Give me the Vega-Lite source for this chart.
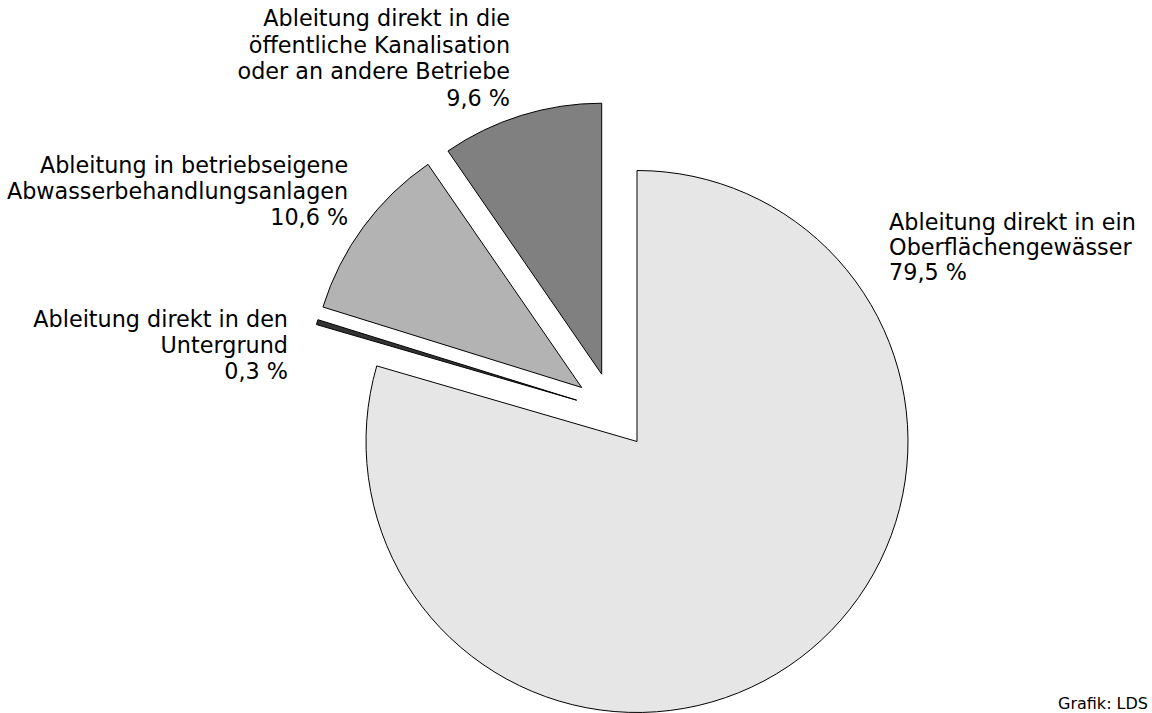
{
  "$schema": "https://vega.github.io/schema/vega-lite/v6.json",
  "width": 1152,
  "height": 713,
  "autosize": {"type": "fit", "contains": "padding"},
  "padding": 0,
  "background": "white",
  "config": {"view": {"stroke": null}, "font": "DejaVu Sans"},
  "datasets": {
    "anteile": [
      {"kategorie": "Oberflächengewässer", "anteil": 79.5, "ord": 1, "label": "Ableitung direkt in ein\nOberflächengewässer\n79,5 %"},
      {"kategorie": "Untergrund", "anteil": 0.3, "ord": 2, "label": "Ableitung direkt in den\nUntergrund\n0,3 %"},
      {"kategorie": "Abwasserbehandlungsanlagen", "anteil": 10.6, "ord": 3, "label": "Ableitung in betriebseigene\nAbwasserbehandlungsanlagen\n10,6 %"},
      {"kategorie": "Kanalisation", "anteil": 9.6, "ord": 4, "label": "Ableitung direkt in die\nöffentliche Kanalisation\noder an andere Betriebe\n9,6 %"}
    ],
    "quelle": [{"text": "Grafik: LDS"}]
  },
  "layer": [
    {
      "data": {"name": "anteile"},
      "transform": [
        {"stack": "anteil", "groupby": [], "sort": [{"field": "ord", "order": "ascending"}], "as": ["start", "end"]},
        {"filter": "datum.ord == 1"}
      ],
      "mark": {"type": "arc", "outerRadius": 271, "xOffset": 61, "yOffset": 86.5, "fill": "#e6e6e6", "stroke": "black", "strokeWidth": 1, "strokeJoin": "miter"},
      "encoding": {
        "theta": {"field": "start", "type": "quantitative", "scale": {"domain": [0, 100], "range": [0, 6.283185307179586]}},
        "theta2": {"field": "end"}
      }
    },
    {
      "data": {"name": "anteile"},
      "transform": [
        {"stack": "anteil", "groupby": [], "sort": [{"field": "ord", "order": "ascending"}], "as": ["start", "end"]},
        {"filter": "datum.ord == 2"}
      ],
      "mark": {"type": "arc", "outerRadius": 271, "xOffset": 0.7, "yOffset": 45.2, "fill": "#333333", "stroke": "black", "strokeWidth": 1, "strokeJoin": "miter"},
      "encoding": {
        "theta": {"field": "start", "type": "quantitative", "scale": {"domain": [0, 100], "range": [0, 6.283185307179586]}},
        "theta2": {"field": "end"}
      }
    },
    {
      "data": {"name": "anteile"},
      "transform": [
        {"stack": "anteil", "groupby": [], "sort": [{"field": "ord", "order": "ascending"}], "as": ["start", "end"]},
        {"filter": "datum.ord == 3"}
      ],
      "mark": {"type": "arc", "outerRadius": 271, "xOffset": 5.7, "yOffset": 32.5, "fill": "#b3b3b3", "stroke": "black", "strokeWidth": 1, "strokeJoin": "miter"},
      "encoding": {
        "theta": {"field": "start", "type": "quantitative", "scale": {"domain": [0, 100], "range": [0, 6.283185307179586]}},
        "theta2": {"field": "end"}
      }
    },
    {
      "data": {"name": "anteile"},
      "transform": [
        {"stack": "anteil", "groupby": [], "sort": [{"field": "ord", "order": "ascending"}], "as": ["start", "end"]},
        {"filter": "datum.ord == 4"}
      ],
      "mark": {"type": "arc", "outerRadius": 271, "xOffset": 25.7, "yOffset": 19.2, "fill": "#808080", "stroke": "black", "strokeWidth": 1, "strokeJoin": "miter"},
      "encoding": {
        "theta": {"field": "start", "type": "quantitative", "scale": {"domain": [0, 100], "range": [0, 6.283185307179586]}},
        "theta2": {"field": "end"}
      }
    },
    {
      "data": {"name": "anteile"},
      "transform": [
        {"stack": "anteil", "groupby": [], "sort": [{"field": "ord", "order": "ascending"}], "as": ["start", "end"]},
        {"calculate": "(datum.start + datum.end) / 2", "as": "mitte"},
        {"filter": "datum.ord == 1"}
      ],
      "mark": {"type": "text", "radius": 290, "xOffset": 61, "yOffset": 86.5, "align": "left", "baseline": "top", "dx": 78, "dy": -461, "fontSize": 22.3, "lineHeight": 25, "lineBreak": "\n", "color": "black", "font": "DejaVu Sans"},
      "encoding": {
        "theta": {"field": "mitte", "type": "quantitative", "scale": {"domain": [0, 100], "range": [0, 6.283185307179586]}},
        "text": {"field": "label"}
      }
    },
    {
      "data": {"name": "anteile"},
      "transform": [
        {"stack": "anteil", "groupby": [], "sort": [{"field": "ord", "order": "ascending"}], "as": ["start", "end"]},
        {"calculate": "(datum.start + datum.end) / 2", "as": "mitte"},
        {"filter": "datum.ord == 2"}
      ],
      "mark": {"type": "text", "radius": 290, "xOffset": 0.7, "yOffset": 45.2, "align": "right", "baseline": "top", "dx": -11, "dy": -8, "fontSize": 22.3, "lineHeight": 26, "lineBreak": "\n", "color": "black", "font": "DejaVu Sans"},
      "encoding": {
        "theta": {"field": "mitte", "type": "quantitative", "scale": {"domain": [0, 100], "range": [0, 6.283185307179586]}},
        "text": {"field": "label"}
      }
    },
    {
      "data": {"name": "anteile"},
      "transform": [
        {"stack": "anteil", "groupby": [], "sort": [{"field": "ord", "order": "ascending"}], "as": ["start", "end"]},
        {"calculate": "(datum.start + datum.end) / 2", "as": "mitte"},
        {"filter": "datum.ord == 3"}
      ],
      "mark": {"type": "text", "radius": 290, "xOffset": 5.7, "yOffset": 32.5, "align": "right", "baseline": "top", "dx": 0, "dy": -61, "fontSize": 22.3, "lineHeight": 26, "lineBreak": "\n", "color": "black", "font": "DejaVu Sans"},
      "encoding": {
        "theta": {"field": "mitte", "type": "quantitative", "scale": {"domain": [0, 100], "range": [0, 6.283185307179586]}},
        "text": {"field": "label"}
      }
    },
    {
      "data": {"name": "anteile"},
      "transform": [
        {"stack": "anteil", "groupby": [], "sort": [{"field": "ord", "order": "ascending"}], "as": ["start", "end"]},
        {"calculate": "(datum.start + datum.end) / 2", "as": "mitte"},
        {"filter": "datum.ord == 4"}
      ],
      "mark": {"type": "text", "radius": 290, "xOffset": 25.7, "yOffset": 19.2, "align": "right", "baseline": "top", "dx": -5.5, "dy": -88.8, "fontSize": 22.3, "lineHeight": 26.5, "lineBreak": "\n", "color": "black", "font": "DejaVu Sans"},
      "encoding": {
        "theta": {"field": "mitte", "type": "quantitative", "scale": {"domain": [0, 100], "range": [0, 6.283185307179586]}},
        "text": {"field": "label"}
      }
    },
    {
      "data": {"name": "quelle"},
      "mark": {"type": "text", "align": "right", "baseline": "bottom", "dx": -4, "dy": 2, "fontSize": 16, "color": "black", "font": "DejaVu Sans"},
      "encoding": {
        "x": {"value": "width"},
        "y": {"value": "height"},
        "text": {"field": "text"}
      }
    }
  ]
}
